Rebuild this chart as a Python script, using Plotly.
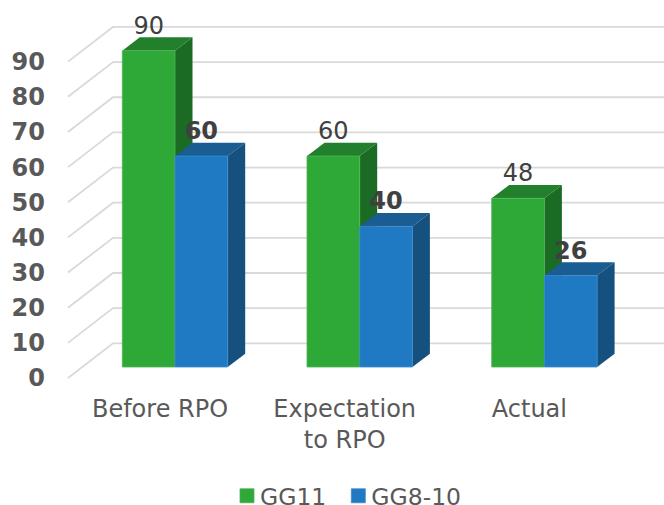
import plotly.graph_objects as go

categories = ["Before RPO", "Expectation<br>to RPO", "Actual"]
gg11 = [90, 60, 48]
gg8_10 = [60, 40, 26]
ticks = [0, 10, 20, 30, 40, 50, 60, 70, 80, 90]

W, H = 664, 505
L, B = 46, 392            # plot-area left / bottom in px
PX_X = 184.7              # px per category
PX_Y = 3.515              # px per value unit
X0 = 175                  # px of category 0 centre
Y0 = 367                  # px of value 0 at bars' front
BAR = 52.7 / PX_X
DX = 17.5 / PX_X
DV = 13.3 / PX_Y
LIFT = 23 / PX_Y
GRID_FRONT = -11 / PX_Y
GRID_BACK = 23.7 / PX_Y
WALL_FRONT = (68 - X0) / PX_X
WALL_BACK = (113 - X0) / PX_X
XR = [(L - X0) / PX_X, (W - X0) / PX_X]
YR = [(Y0 - B) / PX_Y, Y0 / PX_Y]
LABEL_SHIFT = 15 / PX_X

fig = go.Figure()

# grid
gx, gy = [], []
for t in ticks:
    gx += [WALL_FRONT, WALL_BACK, XR[1], None]
    gy += [t + GRID_FRONT, t + GRID_BACK, t + GRID_BACK, None]
fig.add_trace(go.Scatter(x=gx, y=gy, mode="lines", line=dict(color="#D9D9D9", width=1.8),
                         showlegend=False, hoverinfo="skip", zorder=0))


def faces(values, left_off, top_col, side_col, z):
    for i, v in enumerate(values):
        a = i + left_off
        b = a + BAR
        fig.add_trace(go.Scatter(x=[a, a + DX, b + DX, b, a], y=[v, v + DV, v + DV, v, v],
                                 fill="toself", fillcolor=top_col, mode="lines",
                                 line=dict(width=0), showlegend=False, hoverinfo="skip", zorder=z))
        fig.add_trace(go.Scatter(x=[b, b + DX, b + DX, b, b], y=[v, v + DV, DV, 0, v],
                                 fill="toself", fillcolor=side_col, mode="lines",
                                 line=dict(width=0), showlegend=False, hoverinfo="skip", zorder=z))


xs = list(range(len(categories)))
faces(gg11, -BAR, "#22802C", "#1C6B24", 1)
fig.add_trace(go.Bar(x=xs, y=gg11, name="GG11", width=BAR, offset=-BAR,
                     marker=dict(color="#2EA836", line=dict(width=0.8, color="#4FB556")), zorder=2))
faces(gg8_10, 0, "#195D92", "#15507E", 3)
fig.add_trace(go.Bar(x=xs, y=gg8_10, name="GG8-10", width=BAR, offset=0,
                     marker=dict(color="#2079C3", line=dict(width=0.8, color="#3F8CCB")), zorder=4))

fig.add_trace(go.Scatter(x=[i - BAR / 2 for i in xs], y=[v + LIFT for v in gg11], mode="text",
                         text=[str(v) for v in gg11],
                         textfont=dict(size=24, color="#404040", family="DejaVu Sans"),
                         textposition="middle center", showlegend=False, hoverinfo="skip", zorder=5))
fig.add_trace(go.Scatter(x=[i + BAR / 2 for i in xs], y=[v + LIFT for v in gg8_10], mode="text",
                         text=[f"<b>{v}</b>" for v in gg8_10],
                         textfont=dict(size=24, color="#404040", family="DejaVu Sans"),
                         textposition="middle center", showlegend=False, hoverinfo="skip", zorder=5))

# invisible trace that carries the value-axis labels on the shifted front wall scale
fig.add_trace(go.Scatter(x=[XR[0]], y=[0], yaxis="y2", mode="markers", marker=dict(opacity=0),
                         showlegend=False, hoverinfo="skip"))

fig.update_layout(
    width=W, height=H,
    margin=dict(l=L, r=0, t=0, b=H - B, pad=0),
    paper_bgcolor="white", plot_bgcolor="white",
    barmode="overlay",
    font=dict(family="DejaVu Sans", size=24, color="#595959"),
    xaxis=dict(range=XR, tickmode="array", tickvals=[i - LABEL_SHIFT for i in xs], ticktext=categories,
               showgrid=False, zeroline=False, showline=False, ticks="", fixedrange=True),
    yaxis=dict(range=YR, showticklabels=False, showgrid=False, zeroline=False, showline=False,
               ticks="", fixedrange=True),
    yaxis2=dict(overlaying="y", side="left", anchor="x",
                range=[YR[0] - GRID_FRONT, YR[1] - GRID_FRONT],
                tickmode="array", tickvals=ticks, ticktext=[f"<b>{t}</b>" for t in ticks],
                showgrid=False, zeroline=False, showline=False, ticks="", fixedrange=True,
                tickfont=dict(size=24, color="#595959", family="DejaVu Sans")),
    legend=dict(orientation="h", x=0.4927, xanchor="center", y=9 / H, yanchor="middle",
                yref="container", font=dict(size=23.5, color="#595959"), traceorder="normal"),
)
post = """
document.body.style.margin = '0';
document.querySelectorAll('.legend .scrollbox').forEach(function (s) {
    s.removeAttribute('clip-path');
    s.style.clipPath = 'none';
});
document.querySelectorAll('.legend .scrollbar').forEach(function (s) {
    s.style.display = 'none';
});
document.querySelectorAll('.legendtext').forEach(function (t) {
    t.setAttribute('x', parseFloat(t.getAttribute('x')) - 7);
});
document.querySelectorAll('.legendpoints path').forEach(function (p) {
    p.setAttribute('d', 'M7,7H-7V-7H7Z');
});
"""
fig.write_html("out.html", post_script=post, config={"displayModeBar": False})
